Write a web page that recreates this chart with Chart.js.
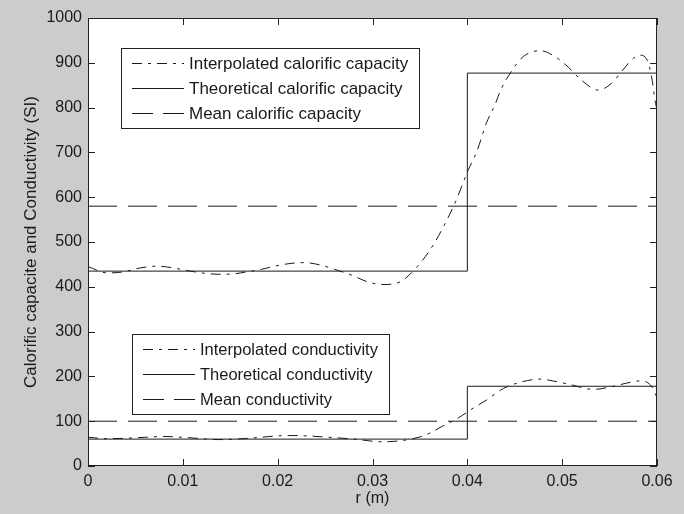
<!DOCTYPE html>
<html>
<head>
<meta charset="utf-8">
<script src="https://cdn.jsdelivr.net/npm/chart.js@4.4.1/dist/chart.umd.min.js"></script>
<style>
  html, body { margin: 0; padding: 0; background: #cccccc; }
  canvas { display: block; }
</style>
</head>
<body>
<canvas id="chart" width="684" height="514"></canvas>
<script>
// interpolated calorific capacity, sampled along r (m)
const calorificR = [0, 0.002, 0.0036, 0.0055, 0.0071, 0.0088, 0.010, 0.012, 0.0137, 0.0154,
    0.0169, 0.0183, 0.0197, 0.0213, 0.0229, 0.0246, 0.026, 0.0278, 0.0295, 0.0311,
    0.0329, 0.0341, 0.0353, 0.0364, 0.0373, 0.0387, 0.0401, 0.041, 0.042, 0.0429,
    0.0436, 0.0445, 0.0459, 0.0477, 0.049, 0.0504, 0.052, 0.0538, 0.0552, 0.0564,
    0.0575, 0.0582, 0.0591, 0.0595, 0.0598, 0.06];
const calorificInterp = [445, 431, 433, 442, 446, 443, 438, 431, 428, 429,
    434, 439, 446, 452, 454, 448, 439, 426, 411, 405,
    411, 431, 460, 493, 527, 587, 661, 702, 765, 806,
    843, 876, 914, 927, 917, 895, 862, 839, 854, 884,
    910, 917, 899, 860, 815, 795];

// interpolated conductivity
const conductivityR = [0, 0.002, 0.004, 0.006, 0.008, 0.010, 0.012, 0.0137, 0.0155, 0.017,
    0.0199, 0.0216, 0.0248, 0.028, 0.0311, 0.0332, 0.035, 0.0361, 0.0373, 0.0387,
    0.0394, 0.0406, 0.042, 0.0438, 0.0456, 0.0477, 0.049, 0.0508, 0.0533, 0.055,
    0.0568, 0.0582, 0.0593, 0.0598, 0.06];
const conductivityInterp = [64, 61, 62, 64, 66, 64, 61, 59, 60, 62,
    67, 68, 65, 60, 54, 57, 65, 74, 88, 103,
    112, 129, 147, 173, 187, 194, 190, 182, 171, 176,
    185, 190, 181, 163, 152];

// theoretical (two-layer) profiles and their means
const stepR = [0, 0.04, 0.04, 0.06];
const calorificTheory = [435, 435, 877, 877];
const conductivityTheory = [60, 60, 178, 178];
const meanR = [0, 0.06];
const calorificMean = [580, 580];
const conductivityMean = [100, 100];

const xTicks = [0, 0.01, 0.02, 0.03, 0.04, 0.05, 0.06];
const yTicks = [0, 100, 200, 300, 400, 500, 600, 700, 800, 900, 1000];

const labels = [
    'Interpolated calorific capacity', 'Theoretical calorific capacity', 'Mean calorific capacity',
    'Interpolated conductivity', 'Theoretical conductivity', 'Mean conductivity'
];

const ink = '#1a1a1a';
const fontFamily = '"Liberation Sans", Arial, sans-serif';
const dashDot = [10, 6, 3, 6];
const dashed = [29, 11];
const legendDashed = [21, 10];

const toPoints = (xs, ys) => xs.map((x, i) => ({ x: x, y: ys[i] }));

function makeSet(label, xs, ys, dash, smooth) {
    return {
        label: label,
        data: toPoints(xs, ys),
        borderColor: ink,
        borderWidth: 1,
        borderDash: dash,
        pointRadius: 0,
        fill: false,
        cubicInterpolationMode: smooth ? 'monotone' : 'default',
        tension: 0
    };
}

// white plot area
const plotBackground = {
    id: 'plotBackground',
    beforeDatasetsDraw(chart) {
        const { ctx, chartArea: a } = chart;
        ctx.save();
        ctx.fillStyle = '#ffffff';
        ctx.fillRect(a.left, a.top, a.right - a.left, a.bottom - a.top);
        ctx.restore();
    }
};

// box around the axes with inward ticks on all four sides
const axesBox = {
    id: 'axesBox',
    afterDatasetsDraw(chart) {
        const { ctx, chartArea: a, scales } = chart;
        const len = 7;
        ctx.save();
        ctx.strokeStyle = '#222';
        ctx.lineWidth = 1;
        ctx.setLineDash([]);
        ctx.strokeRect(a.left + 0.5, a.top + 0.5, a.right - a.left - 1, a.bottom - a.top - 1);
        ctx.beginPath();
        scales.x.ticks.forEach(t => {
            const px = Math.round(scales.x.getPixelForValue(t.value)) + 0.5;
            ctx.moveTo(px, a.bottom); ctx.lineTo(px, a.bottom - len);
            ctx.moveTo(px, a.top); ctx.lineTo(px, a.top + len);
        });
        scales.y.ticks.forEach(t => {
            const py = Math.round(scales.y.getPixelForValue(t.value)) + 0.5;
            ctx.moveTo(a.left, py); ctx.lineTo(a.left + len, py);
            ctx.moveTo(a.right, py); ctx.lineTo(a.right - len, py);
        });
        ctx.stroke();
        ctx.restore();
    }
};

// two legend boxes inside the axes
const boxedLegends = {
    id: 'boxedLegends',
    afterDraw(chart) {
        const { ctx, chartArea: a } = chart;
        const groups = [
            { items: [0, 1, 2], left: a.left + 33, top: a.top + 30, size: 17 },
            { items: [3, 4, 5], left: a.left + 44, top: a.bottom - 132, size: 16.5 }
        ];
        ctx.save();
        groups.forEach(g => {
            ctx.font = g.size + 'px ' + fontFamily;
            const sets = g.items.map(i => chart.data.datasets[i]);
            const textW = Math.max(...sets.map(s => ctx.measureText(s.label).width));
            const w = Math.round(68 + textW + 11);
            const h = 80;
            ctx.setLineDash([]);
            ctx.fillStyle = '#ffffff';
            ctx.fillRect(g.left, g.top, w, h);
            ctx.strokeStyle = '#222';
            ctx.lineWidth = 1;
            ctx.strokeRect(g.left + 0.5, g.top + 0.5, w, h);
            sets.forEach((s, k) => {
                const y = Math.round(g.top + 15 + k * 25) + 0.5;
                const dash = s.borderDash === dashed ? legendDashed : s.borderDash;
                ctx.strokeStyle = s.borderColor;
                ctx.setLineDash(dash || []);
                ctx.beginPath();
                ctx.moveTo(g.left + 11, y);
                ctx.lineTo(g.left + 63, y);
                ctx.stroke();
                ctx.fillStyle = ink;
                ctx.textBaseline = 'middle';
                ctx.fillText(s.label, g.left + 68, y + 1);
            });
        });
        ctx.restore();
    }
};

new Chart(document.getElementById('chart'), {
    type: 'line',
    data: {
        datasets: [
            makeSet(labels[0], calorificR, calorificInterp, dashDot, true),
            makeSet(labels[1], stepR, calorificTheory, [], false),
            makeSet(labels[2], meanR, calorificMean, dashed, false),
            makeSet(labels[3], conductivityR, conductivityInterp, dashDot, true),
            makeSet(labels[4], stepR, conductivityTheory, [], false),
            makeSet(labels[5], meanR, conductivityMean, dashed, false)
        ]
    },
    options: {
        responsive: false,
        animation: false,
        devicePixelRatio: 1,
        layout: { padding: { top: 18, right: 27, left: 0, bottom: 0 } },
        plugins: {
            legend: { display: false },
            tooltip: { enabled: false }
        },
        scales: {
            x: {
                type: 'linear',
                min: 0,
                max: 0.06,
                afterBuildTicks: scale => { scale.ticks = xTicks.map(v => ({ value: v })); },
                afterFit: scale => { scale.height = 48; },
                grid: { display: false, drawTicks: false },
                border: { display: false },
                ticks: {
                    color: ink,
                    padding: 6,
                    maxRotation: 0,
                    font: { family: fontFamily, size: 16 },
                    callback: v => String(+v.toFixed(2))
                },
                title: {
                    display: true,
                    text: 'r (m)',
                    color: ink,
                    padding: { top: 0, bottom: 6 },
                    font: { family: fontFamily, size: 16 }
                }
            },
            y: {
                min: 0,
                max: 1000,
                afterBuildTicks: scale => { scale.ticks = yTicks.map(v => ({ value: v })); },
                afterFit: scale => { scale.width = 88; },
                grid: { display: false, drawTicks: false },
                border: { display: false },
                ticks: {
                    color: ink,
                    padding: 6,
                    font: { family: fontFamily, size: 16 },
                    callback: v => String(v)
                },
                title: {
                    display: true,
                    text: 'Calorific capacite and Conductivity (SI)',
                    color: ink,
                    padding: { top: 21, bottom: 0 },
                    font: { family: fontFamily, size: 17 }
                }
            }
        }
    },
    plugins: [plotBackground, axesBox, boxedLegends]
});
</script>
</body>
</html>
